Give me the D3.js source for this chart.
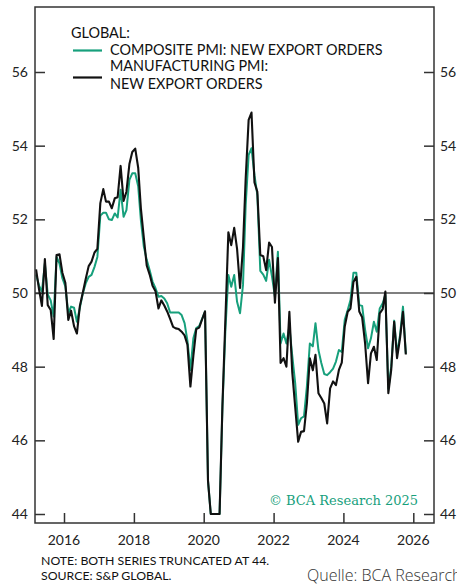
<!DOCTYPE html>
<html>
<head>
<meta charset="utf-8">
<script src="https://cdn.jsdelivr.net/npm/d3@7"></script>
<style>
  body { margin: 0; background: #fff; }
  text { font-family: Lato, "Open Sans", sans-serif; }
</style>
</head>
<body>
<script>
// monthly readings, Mar 2015 .. Oct 2025 (both truncated at 44)
const firstMonth = new Date(2015, 2, 15);

const compositePmi = [
  50.5, 50.2, 50.04, 50.8, 49.96, 49.8, 49.36, 50.98, 50.8, 50.4,
  50.18, 49.45, 49.63, 49.6, 49.22, 49.6, 49.98, 50.26, 50.44, 50.49,
  50.71, 50.98, 52.1, 52.18, 52.18, 52.0, 51.98, 52.16, 52.05, 52.8,
  52.07, 52.25, 53.07, 53.25, 53.25, 52.9, 51.98, 51.26, 50.9, 50.62,
  50.31, 50.13, 49.9, 49.92, 49.85, 49.72, 49.47, 49.47, 49.47, 49.47,
  49.4, 49.18, 48.7, 47.91, 48.77, 49.05, 49.1, 49.3, 49.5, 44.9,
  44, 44, 44, 44, 46.9, 49.0, 50.49, 50.17, 50.49, 49.76,
  49.45, 50.22, 52.39, 53.75, 53.93, 53.2, 52.66, 50.6, 50.5, 50.33,
  50.9, 50.45, 49.9, 51.12, 48.63, 48.9, 48.63, 49.09, 48.3, 47.55,
  46.42, 46.6, 46.65, 47.46, 48.63, 48.55, 49.18, 48.45, 48.1, 47.8,
  47.77, 47.85, 47.95, 48.14, 48.45, 48.4, 49.27, 49.54, 49.81, 50.55,
  50.55, 49.67, 49.65, 49.0, 48.5, 48.77, 49.22, 48.95, 49.58, 49.72,
  49.95, 47.4, 48.0, 49.25, 48.35, 48.85, 49.63, 48.35
];

const manufacturingPmi = [
  50.64, 50.1, 49.65, 50.92, 49.67, 49.54, 48.75, 51.03, 51.05, 50.55,
  50.28, 49.27, 49.52, 49.1, 48.9, 49.65, 50.0, 50.38, 50.73, 50.85,
  51.1, 51.2, 52.44, 52.82, 52.48, 52.48, 52.3, 52.57, 52.6, 53.45,
  52.5, 52.75, 53.5, 53.83, 53.92, 53.4, 52.3, 51.5, 50.75, 50.5,
  50.2, 50.05, 49.58, 49.8, 49.66, 49.5, 49.3, 49.08, 49.04, 49.02,
  48.95, 48.85, 48.6, 47.46, 48.3, 49.02, 49.06, 49.28, 49.5, 44.9,
  44, 44, 44, 44, 46.96, 49.3, 51.65, 51.3, 51.77, 51.2,
  50.14, 51.25, 53.1, 54.7, 54.9, 53.0, 52.75, 51.03, 51.0, 50.62,
  51.37, 51.25, 49.74, 50.95, 48.1, 48.23, 48.0, 49.49, 47.85, 46.9,
  45.96, 46.23, 46.25, 47.0, 48.23, 47.9, 48.32, 47.28, 47.15, 47.0,
  46.46, 47.41, 47.6, 47.5, 47.91, 48.11, 49.09, 49.49, 49.58, 50.3,
  50.44, 49.5, 49.34, 48.63, 47.55, 48.36, 48.54, 48.18, 49.45, 49.56,
  50.04, 47.28, 47.91, 49.22, 48.23, 48.77, 49.49, 48.33
];

const yTicks = [44, 46, 48, 50, 52, 54, 56];
const xTickYears = [2016, 2018, 2020, 2022, 2024, 2026];

const legendTitle = "GLOBAL:";
const legendItems = [
  { lines: ["COMPOSITE PMI: NEW EXPORT ORDERS"], color: "#17a07c" },
  { lines: ["MANUFACTURING PMI:", "NEW EXPORT ORDERS"], color: "#111" }
];

const svgWidth = 457;
const svgHeight = 585;

// frame of the plot
const frame = { left: 35, right: 434, top: 7, bottom: 523 };

const svg = d3.select("body")
    .append("svg")
    .attr("width", svgWidth)
    .attr("height", svgHeight);

const x = d3.scaleTime()
    .domain([new Date(2016, 0, 1), new Date(2026, 0, 1)])
    .range([64, 413.3]);

const y = d3.scaleLinear()
    .domain([44, 56])
    .range([514, 72]);

const dates = compositePmi.map((d, i) => d3.timeMonth.offset(firstMonth, i));

// 50 line
svg.append("line")
    .attr("x1", frame.left).attr("x2", frame.right)
    .attr("y1", y(50)).attr("y2", y(50))
    .style("stroke", "#555")
    .style("stroke-width", 1.3);

// left and right axes, ticks pointing inward
const leftAxis = svg.append("g")
    .attr("transform", `translate(${frame.left},0)`)
    .call(d3.axisRight(y).tickValues(yTicks).tickSize(10).tickFormat(""));

const rightAxis = svg.append("g")
    .attr("transform", `translate(${frame.right},0)`)
    .call(d3.axisLeft(y).tickValues(yTicks).tickSize(10).tickFormat(""));

const bottomAxis = svg.append("g")
    .attr("transform", `translate(0,${frame.bottom})`)
    .call(d3.axisTop(x)
        .tickValues(xTickYears.map(yr => new Date(yr, 0, 1)))
        .tickSize(10)
        .tickFormat(""));

[leftAxis, rightAxis, bottomAxis].forEach(g => {
    g.select(".domain").remove();
    g.selectAll(".tick line").style("stroke", "#333").style("stroke-width", 1.5);
});

// tick labels
svg.selectAll(".ylab-left")
    .data(yTicks)
    .enter()
    .append("text")
    .attr("x", 28)
    .attr("y", d => y(d) + 5)
    .attr("text-anchor", "end")
    .style("font-size", "14px")
    .style("fill", "#222")
    .text(d => d);

svg.selectAll(".ylab-right")
    .data(yTicks)
    .enter()
    .append("text")
    .attr("x", 440)
    .attr("y", d => y(d) + 5)
    .style("font-size", "14px")
    .style("fill", "#222")
    .text(d => d);

svg.selectAll(".xlab")
    .data(xTickYears)
    .enter()
    .append("text")
    .attr("x", d => x(new Date(d, 0, 1)))
    .attr("y", 545)
    .attr("text-anchor", "middle")
    .style("font-size", "14px")
    .style("fill", "#222")
    .text(d => d);

// the two series
const line = d3.line()
    .x((d, i) => x(dates[i]))
    .y(d => y(d));

svg.append("path")
    .datum(compositePmi)
    .attr("d", line)
    .style("fill", "none")
    .style("stroke", legendItems[0].color)
    .style("stroke-width", 2)
    .style("stroke-linejoin", "round");

svg.append("path")
    .datum(manufacturingPmi)
    .attr("d", line)
    .style("fill", "none")
    .style("stroke", legendItems[1].color)
    .style("stroke-width", 2.1)
    .style("stroke-linejoin", "round");

// frame
svg.append("rect")
    .attr("x", frame.left)
    .attr("y", frame.top)
    .attr("width", frame.right - frame.left)
    .attr("height", frame.bottom - frame.top)
    .style("fill", "none")
    .style("stroke", "#333")
    .style("stroke-width", 1.5);

// legend
svg.append("text")
    .attr("x", 71)
    .attr("y", 38)
    .style("font-size", "14.4px")
    .style("fill", "#111")
    .text(legendTitle);

const legendRows = [55, 71];
legendItems.forEach((item, i) => {
    const base = legendRows[i];
    svg.append("line")
        .attr("x1", 73).attr("x2", 102)
        .attr("y1", i === 0 ? base - 4.5 : base + 6.5)
        .attr("y2", i === 0 ? base - 4.5 : base + 6.5)
        .style("stroke", item.color)
        .style("stroke-width", 2.2);
    item.lines.forEach((t, j) => {
        svg.append("text")
            .attr("x", 110)
            .attr("y", base + j * 18)
            .style("font-size", "14.4px")
            .style("fill", "#111")
            .text(t);
    });
});

// watermark
svg.append("text")
    .attr("x", 418)
    .attr("y", 505)
    .attr("text-anchor", "end")
    .style("font-family", "'DejaVu Serif', 'Liberation Serif', serif")
    .style("font-size", "13px")
    .style("fill", "#17a07c")
    .text("© BCA Research 2025");

// notes
const notes = ["NOTE: BOTH SERIES TRUNCATED AT 44.", "SOURCE: S&P GLOBAL."];
svg.selectAll(".note")
    .data(notes)
    .enter()
    .append("text")
    .attr("x", 41)
    .attr("y", (d, i) => 565 + i * 15)
    .style("font-size", "12.3px")
    .style("fill", "#111")
    .text(d => d);

svg.append("text")
    .attr("x", 307)
    .attr("y", 581)
    .style("font-family", "'Open Sans', sans-serif")
    .style("font-weight", 300)
    .style("font-size", "16px")
    .style("fill", "#333")
    .text("Quelle: BCA Research");
</script>
</body>
</html>
